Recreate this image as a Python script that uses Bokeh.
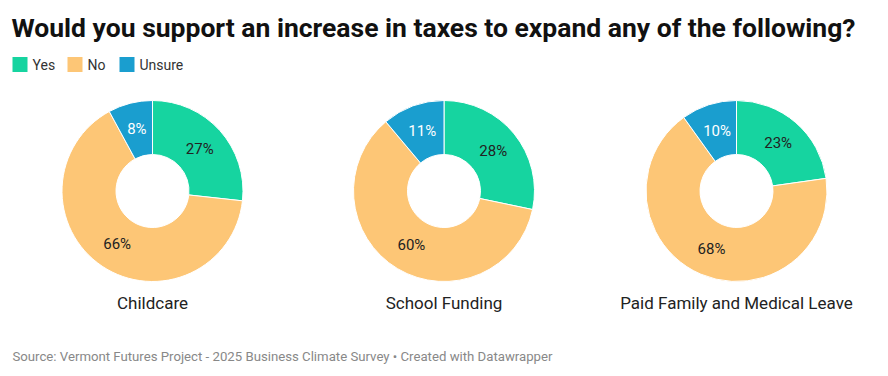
from bokeh.plotting import figure
from bokeh.models import Range1d, ColumnDataSource
from bokeh.core.properties import value
from bokeh.embed import file_html
from bokeh.resources import INLINE
import math

TITLE = "Would you support an increase in taxes to expand any of the following?"
SOURCE = "Source: Vermont Futures Project - 2025 Business Climate Survey \u2022 Created with Datawrapper"
answers = ["Yes", "No", "Unsure"]
colors = ["#16d4a0", "#fdc676", "#1a9ecf"]
label_colors = ["#222222", "#222222", "#ffffff"]
topics = ["Childcare", "School Funding", "Paid Family and Medical Leave"]
yes_vals = [27, 28, 23]
no_vals = [66, 60, 68]
unsure_vals = [8, 11, 10]

W, H = 888, 376
p = figure(width=W, height=H, x_range=Range1d(0, W), y_range=Range1d(0, H),
           output_backend="svg", toolbar_location=None, min_border=0)
p.axis.visible = False
p.grid.visible = False
p.outline_line_color = None
p.background_fill_color = "white"
p.border_fill_color = "white"

def Y(ypix):
    return H - ypix

# title
p.text(x=[11], y=[Y(27)], text=[TITLE], text_font=value("Roboto"), text_font_style="bold",
       text_font_size="26.5px", text_color="#111111", text_baseline="middle", text_align="left")

# legend
lx = [12, 67, 119]
for i, a in enumerate(answers):
    p.rect(x=[lx[i] + 7.5], y=[Y(64)], width=15, height=15, width_units="screen",
           height_units="screen", fill_color=colors[i], line_color=None)
    p.text(x=[lx[i] + 20], y=[Y(64)], text=[a], text_font=value("Roboto"), text_font_size="14px",
           text_color="#333333", text_baseline="middle", text_align="left")

centers = [152, 443.5, 736]
cy = 190.5
r_out, r_in = 90.5, 36.5
series = [yes_vals, no_vals, unsure_vals]
for k, topic in enumerate(topics):
    vals = [s[k] for s in series]
    total = sum(vals)
    cum = 0.0
    starts, ends, lxs, lys = [], [], [], []
    for v in vals:
        a0 = math.pi / 2 - 2 * math.pi * cum / total
        cum += v
        a1 = math.pi / 2 - 2 * math.pi * cum / total
        starts.append(a0)
        ends.append(a1)
        mid = (a0 + a1) / 2
        rm = (r_out + r_in) / 2
        lxs.append(centers[k] + rm * math.cos(mid))
        lys.append(Y(cy) + rm * math.sin(mid))
    src = ColumnDataSource(dict(x=[centers[k]] * 3, y=[Y(cy)] * 3, start=starts, end=ends, color=colors))
    p.annular_wedge(x="x", y="y", inner_radius=r_in, outer_radius=r_out,
                    inner_radius_units="screen", outer_radius_units="screen",
                    start_angle="start", end_angle="end", direction="clock",
                    fill_color="color", line_color="white", line_width=1, source=src)
    lsrc = ColumnDataSource(dict(x=lxs, y=lys, t=[f"{v}%" for v in vals], c=label_colors))
    p.text(x="x", y="y", text="t", text_color="c", text_font=value("Roboto"), text_font_size="15px",
           text_align="center", text_baseline="middle", source=lsrc)
    p.text(x=[centers[k]], y=[Y(302)], text=[topic], text_font=value("Roboto"), text_font_size="17px",
           text_color="#222222", text_align="center", text_baseline="middle")

p.text(x=[12], y=[Y(356)], text=[SOURCE], text_font=value("Roboto"), text_font_size="13.2px",
       text_color="#888888", text_align="left", text_baseline="middle")

open("out.html", "w").write(file_html(p, INLINE))
